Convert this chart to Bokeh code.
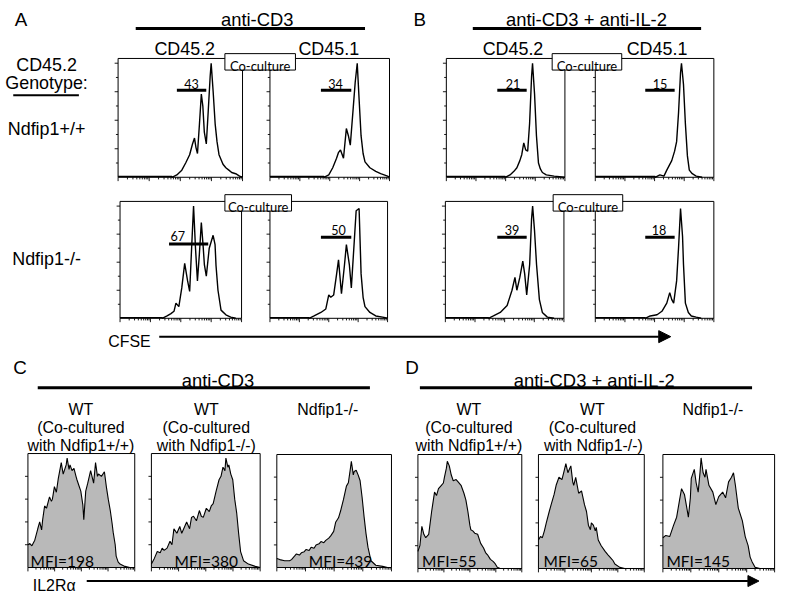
import numpy as np
from bokeh.plotting import figure
from bokeh.models import Range1d, Arrow, NormalHead
from bokeh.embed import file_html
from bokeh.resources import INLINE
from bokeh.core.properties import value

# ---------------- data ----------------
# CFSE histograms: x = % of the (log) CFSE axis, y = % of panel height
A1_CD452_X = [43.3, 47.2, 51.2, 54.3, 57.5, 59.8, 61.4, 62.6, 63.8, 65.4, 66.9, 68.1, 69.3, 70.9, 72.4, 74.0, 74.8, 76.4, 78.0, 79.5, 81.1, 84.3, 86.6, 89.0, 91.3, 94.5, 97.6, 100]
A1_CD452_Y = [0, 2, 6, 12, 19, 28, 33, 25, 20, 45, 70, 60, 38, 28, 55, 85, 96, 72, 45, 30, 19, 11, 8, 6, 4, 3, 1, 0]
A1_CD451_X = [45.1, 49.2, 52.5, 54.1, 55.7, 57.4, 59.0, 61.5, 63.9, 65.6, 67.2, 69.7, 71.3, 73.0, 74.6, 76.2, 77.9, 79.5, 83.6, 88.5, 92.6, 98.4, 100]
A1_CD451_Y = [0, 2, 8, 12, 16, 21, 23, 16, 41, 35, 27, 59, 80, 96, 65, 35, 20, 13, 8, 5, 3, 1, 0]
B1_CD452_X = [49.6, 53.7, 57.0, 59.5, 62.0, 63.6, 65.3, 66.9, 68.6, 70.2, 71.9, 72.7, 74.4, 76.0, 77.7, 79.3, 81.0, 84.3, 90.9, 100]
B1_CD452_Y = [0, 2, 5, 8, 14, 19, 29, 23, 22, 45, 85, 96, 70, 35, 12, 7, 4, 2, 1, 0]
B1_CD451_X = [50.4, 54.5, 57.9, 60.3, 64.5, 66.9, 68.6, 70.2, 71.9, 72.7, 74.4, 76.0, 77.7, 79.3, 81.8, 85.1, 90.1]
B1_CD451_Y = [0, 2, 1, 6, 14, 22, 30, 54, 88, 96, 78, 45, 18, 6, 3, 1, 0]
A2_CD452_X = [34.7, 38.7, 41.9, 44.4, 46.0, 48.4, 50.8, 53.2, 55.6, 57.3, 58.9, 60.5, 62.1, 63.7, 65.3, 66.9, 68.5, 69.4, 71.0, 73.4, 76.6, 78.2, 79.0, 80.6, 83.1, 87.1, 91.1, 95.2]
A2_CD452_Y = [0, 2, 4, 6, 13, 10, 26, 47, 32, 23, 60, 96, 60, 32, 55, 82, 60, 46, 36, 60, 71, 63, 45, 24, 7, 3, 1, 0]
A2_CD451_X = [33.3, 37.5, 43.3, 47.5, 50.0, 51.7, 54.2, 56.7, 58.3, 60.8, 63.3, 65.0, 67.5, 69.2, 71.7, 73.3, 75.8, 77.5, 79.2, 80.8, 85.0, 90.0, 95.8, 100]
A2_CD451_Y = [0, 2, 5, 8, 20, 18, 20, 38, 50, 21, 45, 63, 46, 26, 66, 92, 94, 38, 18, 10, 5, 2, 1, 0]
B2_CD452_X = [36.4, 40.5, 46.3, 52.1, 56.2, 58.7, 60.3, 62.8, 65.3, 66.9, 68.6, 71.1, 72.7, 73.6, 75.2, 76.9, 79.3, 81.8, 86.0, 91.7]
B2_CD452_Y = [0, 2, 5, 11, 24, 35, 24, 35, 49, 38, 20, 46, 85, 96, 75, 46, 16, 5, 1, 0]
B2_CD451_X = [42.1, 46.3, 52.1, 56.2, 60.3, 62.8, 64.5, 66.1, 68.6, 70.2, 71.9, 73.6, 74.4, 76.0, 78.5, 81.0, 85.1, 89.3]
B2_CD451_Y = [0, 2, 3, 6, 13, 22, 16, 13, 32, 60, 94, 70, 46, 13, 5, 2, 1, 0]
GATES_ROW1 = ["43", "34", "21", "15"]
GATES_ROW2 = ["67", "50", "39", "18"]

# IL2R-alpha histograms: x = % of the (log) axis, y = % of panel height
C_WT1_X = [0, 1.8, 3.7, 6.4, 9.2, 11.0, 12.8, 13.8, 15.6, 17.4, 20.2, 22.0, 22.9, 24.8, 26.6, 28.4, 31.2, 33.0, 35.8, 36.7, 38.5, 39.4, 41.3, 43.1, 45.0, 45.9, 47.7, 49.5, 51.4, 52.3, 54.1, 56.0, 58.7, 61.5, 63.3, 65.1, 66.1, 68.8, 71.6, 73.4, 75.2, 77.1, 78.9, 79.8, 81.7, 82.6, 84.4, 86.2, 90.8, 95.4, 100]
C_WT1_Y = [20, 21, 19, 24, 34, 40, 33, 42, 54, 52, 62, 58, 60, 71, 66, 78, 92, 82, 90, 96, 86, 90, 85, 87, 80, 77, 72, 67, 55, 42, 67, 74, 85, 74, 92, 80, 82, 80, 84, 71, 60, 50, 38, 31, 20, 10, 5, 3, 1, 0, 0]
C_WT2_X = [0, 2.7, 5.4, 8.1, 9.9, 11.7, 14.4, 17.1, 18.9, 20.7, 23.4, 26.1, 27.9, 29.7, 32.4, 35.1, 36.9, 38.7, 41.4, 44.1, 45.9, 47.7, 50.5, 53.2, 55.0, 56.8, 59.5, 62.2, 64.0, 65.8, 67.6, 68.5, 70.3, 71.2, 73.0, 74.8, 76.6, 78.4, 80.2, 82.0, 84.7, 89.2, 95.5, 100]
C_WT2_Y = [3, 8, 14, 13, 17, 15, 17, 23, 20, 34, 30, 36, 30, 34, 40, 34, 44, 45, 41, 50, 45, 44, 52, 49, 54, 56, 67, 77, 80, 88, 85, 96, 88, 90, 82, 77, 60, 48, 30, 14, 6, 3, 1, 0]
C_KO_X = [0, 2.6, 6.8, 11.1, 12.8, 15.4, 17.1, 19.7, 21.4, 23.9, 25.6, 28.2, 29.9, 32.5, 34.2, 36.8, 38.5, 41.0, 42.7, 45.3, 47.0, 49.6, 51.3, 53.8, 55.6, 58.1, 60.7, 62.4, 64.1, 65.0, 66.7, 67.5, 69.2, 70.9, 72.6, 74.4, 76.1, 77.8, 79.5, 82.1, 86.3, 92.3, 96.6, 100]
C_KO_Y = [8, 7, 6, 6, 7, 10, 12, 11, 13, 14, 16, 15, 18, 17, 20, 21, 23, 22, 24, 26, 28, 32, 40, 44, 50, 60, 72, 75, 87, 94, 82, 85, 86, 82, 77, 62, 45, 30, 18, 6, 2, 1, 0, 0]
D_WT1_X = [0, 1.9, 3.8, 5.7, 7.5, 10.4, 13.2, 16.0, 17.9, 19.8, 22.6, 24.5, 25.5, 27.4, 28.3, 30.2, 32.1, 34.0, 36.8, 38.7, 41.5, 44.3, 46.2, 48.1, 50.0, 50.9, 52.8, 54.7, 57.5, 60.4, 63.2, 65.1, 67.0, 69.8, 72.6, 74.5, 76.4, 79.2, 100]
D_WT1_Y = [15, 20, 37, 30, 27, 30, 50, 67, 64, 70, 73, 75, 80, 88, 94, 90, 82, 77, 78, 76, 73, 66, 60, 50, 38, 34, 33, 31, 30, 22, 18, 14, 12, 8, 6, 4, 1, 0, 0]
D_WT2_X = [0, 1.9, 3.7, 5.6, 7.4, 10.2, 12.0, 14.8, 16.7, 19.4, 22.2, 24.1, 25.9, 27.8, 28.7, 30.6, 32.4, 33.3, 35.2, 38.0, 40.7, 43.5, 45.4, 47.2, 49.1, 50.0, 51.9, 53.7, 54.6, 56.5, 59.3, 63.0, 65.7, 67.6, 70.4, 72.2, 76.9, 81.5, 100]
D_WT2_Y = [25, 28, 27, 33, 40, 50, 56, 65, 73, 80, 78, 85, 92, 84, 86, 90, 76, 73, 80, 66, 68, 56, 50, 38, 34, 40, 38, 33, 36, 25, 20, 15, 12, 10, 7, 4, 1, 0, 0]
D_KO_X = [0, 2.6, 6.1, 9.6, 12.3, 14.9, 16.7, 19.3, 21.1, 22.8, 24.6, 25.4, 28.1, 29.8, 31.6, 33.3, 34.2, 36.0, 37.7, 38.6, 41.2, 44.7, 47.4, 50.0, 53.5, 56.1, 58.8, 61.4, 63.2, 64.9, 67.5, 71.1, 73.7, 76.3, 78.1, 79.8, 82.5, 86.8, 100]
D_KO_Y = [27, 29, 28, 38, 45, 60, 70, 65, 55, 45, 62, 79, 87, 75, 67, 85, 97, 84, 80, 87, 73, 67, 56, 63, 67, 62, 76, 80, 84, 73, 53, 42, 28, 20, 10, 6, 1, 0, 0]
MFI_C = [198, 380, 439]
MFI_D = [55, 65, 145]

# ---------------- layout (reference pixel space) ----------------
W, H = 795, 617
FW, FH = 779, 596
K = FH / H


def fs(px):
    return value(f"{px * K:.1f}px")


p = figure(width=FW, height=FH, x_range=Range1d(0, W), y_range=Range1d(H, 0),
           x_axis_location=None, y_axis_location=None, output_backend="svg",
           toolbar_location=None, min_border=0)
p.grid.visible = False
p.outline_line_color = None

CFSE_PANELS = [
    ("a1l", (120, 247, 60, 183), A1_CD452_X, A1_CD452_Y),
    ("a1r", (275, 397, 60, 183), A1_CD451_X, A1_CD451_Y),
    ("b1l", (455, 576, 60, 183), B1_CD452_X, B1_CD452_Y),
    ("b1r", (607, 728, 60, 183), B1_CD451_X, B1_CD451_Y),
    ("a2l", (122, 246, 208, 329), A2_CD452_X, A2_CD452_Y),
    ("a2r", (275, 395, 208, 329), A2_CD451_X, A2_CD451_Y),
    ("b2l", (454, 575, 208, 329), B2_CD452_X, B2_CD452_Y),
    ("b2r", (607, 728, 208, 329), B2_CD451_X, B2_CD451_Y),
]
IL_PANELS = [
    ("c1", (28, 137, 469, 587), C_WT1_X, C_WT1_Y),
    ("c2", (154, 265, 469, 587), C_WT2_X, C_WT2_Y),
    ("c3", (282, 399, 470, 587), C_KO_X, C_KO_Y),
    ("d1", (426, 532, 470, 588), D_WT1_X, D_WT1_Y),
    ("d2", (549, 657, 470, 588), D_WT2_X, D_WT2_Y),
    ("d3", (676, 790, 470, 588), D_KO_X, D_KO_Y),
]

xr, yr = {}, {}
for name, (x0, x1, yt, yb), _, _ in CFSE_PANELS + IL_PANELS:
    w, h = x1 - x0, yb - yt
    xr[name] = Range1d(start=(0 - x0) * 100 / w, end=(W - x0) * 100 / w)
    yr[name] = Range1d(start=(yb - H) * 100 / h, end=yb * 100 / h)
p.extra_x_ranges = xr
p.extra_y_ranges = yr


def axis_ticks(name, box, left_step, left_alt):
    x0, x1, yt, yb = box
    w, h = x1 - x0, yb - yt
    dec = 4
    bx0, by0, by1 = [], [], []
    for d in range(dec + 1):
        bx0.append(100 * d / dec); by0.append(0); by1.append(-4 * 100 / h)
        if d < dec:
            for k in range(2, 10):
                bx0.append(100 * (d + np.log10(k)) / dec); by0.append(0); by1.append(-2.2 * 100 / h)
    p.segment(x0=bx0, y0=by0, x1=bx0, y1=by1, line_color="black", line_width=0.9,
              x_range_name=name, y_range_name=name)
    ly, lx1 = [], []
    t, i = left_step, 0
    while t < 100:
        ly.append(t)
        lx1.append(-(3.5 if i % 2 == 1 else 2.2) * 100 / w if left_alt else -3 * 100 / w)
        t += left_step; i += 1
    p.segment(x0=[0] * len(ly), y0=ly, x1=lx1, y1=ly, line_color="black", line_width=0.9,
              x_range_name=name, y_range_name=name)


# IL2R histograms (filled)
for name, box, xs, ys in IL_PANELS:
    p.varea(x=xs, y1=[0] * len(xs), y2=ys, fill_color="#b9b9b9",
            x_range_name=name, y_range_name=name)
    p.quad(left=[0], right=[100], bottom=[0], top=[100], fill_color=None,
           line_color="black", line_width=1, x_range_name=name, y_range_name=name)
    p.line(xs, ys, line_color="black", line_width=1.1, x_range_name=name, y_range_name=name)
    axis_ticks(name, box, 20, False)

# CFSE histograms (outline)
for name, box, xs, ys in CFSE_PANELS:
    p.quad(left=[0], right=[100], bottom=[0], top=[100], fill_color=None,
           line_color="black", line_width=1, x_range_name=name, y_range_name=name)
    p.line([0, xs[0]] + xs, [0.6, 0.6] + ys, line_color="black", line_width=1.4,
           x_range_name=name, y_range_name=name)
    axis_ticks(name, box, 12, True)

# "Co-culture" boxes spanning the panel pairs
CO_BOXES = [(229, 301, 55, 72), (563, 634, 55, 72), (229, 297, 201, 218), (564, 635, 201, 218)]
p.quad(left=[b[0] for b in CO_BOXES], right=[b[1] for b in CO_BOXES],
       top=[b[2] for b in CO_BOXES], bottom=[b[3] for b in CO_BOXES],
       fill_color="white", line_color="black", line_width=1)
p.text(x=[(b[0] + b[1]) / 2 for b in CO_BOXES], y=[b[3] - 4.5 for b in CO_BOXES],
       text=["Co-culture"] * 4, text_font=value("Lato"), text_font_size=fs(13.5),
       text_align="center", text_baseline="alphabetic", text_color="black")

# gates
G_BARS = [(180, 210, 93), (327, 358, 93), (507, 537, 93), (658, 688, 93),
          (172, 212, 252), (327, 358, 245), (507, 537, 245), (658, 688, 245)]
G_TXT = [(195, 86), (342, 86), (523, 86), (673, 86), (181, 244), (345, 238), (522, 238), (672, 238)]
p.segment(x0=[g[0] for g in G_BARS], x1=[g[1] for g in G_BARS], y0=[g[2] for g in G_BARS],
          y1=[g[2] for g in G_BARS], line_color="black", line_width=3)
p.text(x=[t[0] for t in G_TXT], y=[t[1] for t in G_TXT], text=GATES_ROW1 + GATES_ROW2,
       text_font=value("Lato"), text_font_size=fs(13), text_align="center",
       text_baseline="alphabetic", text_color="black")

# header rules
RULES = [(138, 372, 29, 3), (482, 715, 29, 3), (38, 377, 401, 3), (428, 767, 401, 3), (13, 80, 98, 2)]
for r in RULES:
    p.segment(x0=[r[0]], x1=[r[1]], y0=[r[2]], y1=[r[2]], line_color="black", line_width=r[3])


def texts(items, size, font="Liberation Sans", align="center"):
    p.text(x=[i[1] for i in items], y=[i[2] for i in items], text=[i[0] for i in items],
           text_font=value(font), text_font_size=fs(size), text_align=align,
           text_baseline="alphabetic", text_color="black")


texts([("A", 21, 20), ("B", 428, 20), ("C", 20, 380), ("D", 420, 380)], 19.5)
texts([("anti-CD3", 262, 20), ("anti-CD3 + anti-IL-2", 598, 20),
       ("anti-CD3", 222, 393), ("anti-CD3 + anti-IL-2", 606, 393)], 19)
texts([("CD45.2", 188, 50), ("CD45.1", 335, 50), ("CD45.2", 523, 50), ("CD45.1", 670, 50)], 18.5)
texts([("CD45.2", 47, 67), ("Genotype:", 47, 85), ("Ndfip1+/+", 47, 133), ("Ndfip1-/-", 47, 268)], 18.5)
texts([("CFSE", 110, 353)], 16.5, align="left")
texts([("IL2Rα", 33, 606)], 16.5, align="left")

HEAD = []
for cx in (82, 210, 478, 604):
    HEAD += [("WT", cx, 423), ("(Co-cultured", cx, 442)]
HEAD += [("with Ndfip1+/+)", 82, 461), ("with Ndfip1-/-)", 210, 461),
         ("with Ndfip1+/+)", 478, 461), ("with Ndfip1-/-)", 605, 461),
         ("Ndfip1-/-", 334, 423), ("Ndfip1-/-", 727, 423)]
texts(HEAD, 16.5)

MFI_POS = [(63, 580), (210, 580), (347, 580), (458, 580), (582, 580), (712, 580)]
p.text(x=[m[0] for m in MFI_POS], y=[m[1] for m in MFI_POS],
       text=[f"MFI={v}" for v in MFI_C + MFI_D], text_font=value("Lato"),
       text_font_size=fs(16), text_align="center", text_baseline="alphabetic", text_color="black")

# axis arrows
p.add_layout(Arrow(end=NormalHead(size=12, fill_color="black", line_color="black"),
                   x_start=162, y_start=348, x_end=684, y_end=348,
                   line_color="black", line_width=2))
p.add_layout(Arrow(end=NormalHead(size=11, fill_color="black", line_color="black"),
                   x_start=88, y_start=601, x_end=774, y_end=601,
                   line_color="black", line_width=2))

open("out.html", "w").write(file_html(p, INLINE))
